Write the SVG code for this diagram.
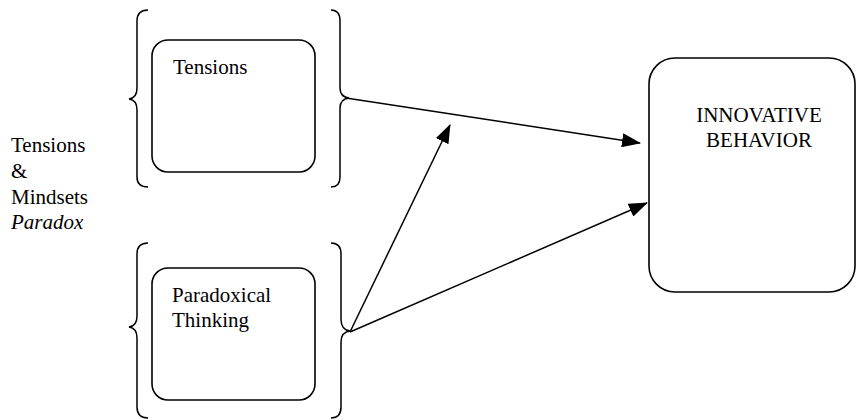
<svg xmlns="http://www.w3.org/2000/svg" width="860" height="420" viewBox="0 0 860 420">
<style>
.ln{fill:none;stroke:#000;stroke-width:1.5}
.bx{fill:#fff;stroke:#000;stroke-width:1.6}
</style>
<defs>
<marker id="ah" markerWidth="20" markerHeight="14" refX="18" refY="7" orient="auto" markerUnits="userSpaceOnUse">
<path d="M0,0 L19,7 L0,14 Z" fill="#000"/>
</marker>
</defs>
<rect width="860" height="420" fill="#fff"/>
<g font-family="Liberation Serif, DejaVu Serif, serif" font-size="21" fill="#000">
<g id="label">
<text x="11" y="152">Tensions</text>
<text x="11" y="178">&amp;</text>
<text x="11" y="204">Mindsets</text>
<text x="11" y="229" font-style="italic">Paradox</text>
</g>
<g id="tensions">
<path class="ln" d="M148,10 Q137,10 137,21 L137,88 Q137,98 129,99 Q137,100 137,110 L137,177 Q137,187 148,187"/>
<path class="ln" d="M331,10 Q340,10 340,21 L340,88 Q340,97 349,98 Q340,99 340,108 L340,177 Q340,187 331,187"/>
<rect class="bx" x="152" y="40" width="163" height="132" rx="16"/>
<text x="173" y="74">Tensions</text>
</g>
<g id="paradoxical">
<path class="ln" d="M148,243 Q137,243 137,254 L137,316 Q137,326 129,327 Q137,328 137,338 L137,407 Q137,418 148,418"/>
<path class="ln" d="M331,243 Q341,243 341,254 L341,319 Q341,330 350,331 Q341,332 341,342 L341,407 Q341,418 331,418"/>
<rect class="bx" x="152" y="268" width="163" height="132" rx="16"/>
<text x="172" y="302">Paradoxical</text>
<text x="172" y="327">Thinking</text>
</g>
<g id="innovative">
<rect class="bx" x="649" y="58" width="206" height="234" rx="26"/>
<text x="759" y="122" text-anchor="middle">INNOVATIVE</text>
<text x="759" y="147" text-anchor="middle">BEHAVIOR</text>
</g>
</g>
<g id="connectors">
<line class="ln" x1="346" y1="98" x2="640" y2="143" marker-end="url(#ah)"/>
<line class="ln" x1="350" y1="332" x2="647" y2="203" marker-end="url(#ah)"/>
<line class="ln" x1="350" y1="332" x2="450" y2="125" marker-end="url(#ah)"/>
</g>
</svg>
